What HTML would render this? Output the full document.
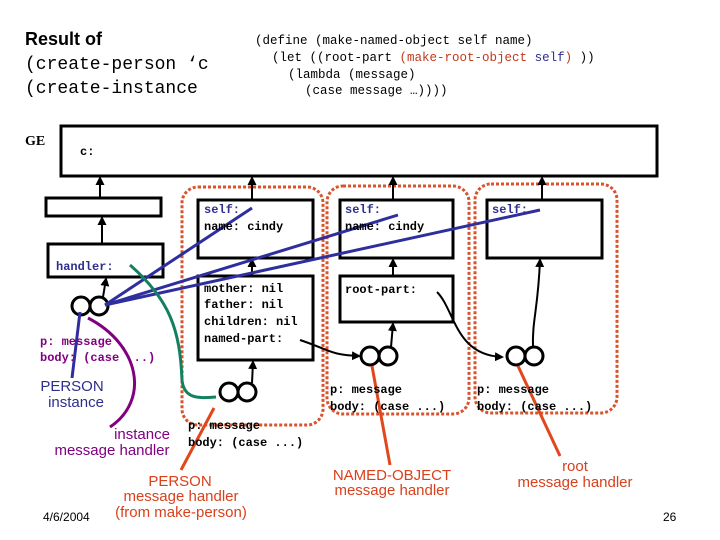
<!DOCTYPE html>
<html><head><style>body{margin:0;background:#fff}svg{display:block}
.m{font-family:"Liberation Mono",monospace;font-size:12px;font-weight:bold}
.s{font-family:"Liberation Sans",sans-serif;font-size:15px}
</style></head><body>
<svg width="720" height="540" viewBox="0 0 720 540" xmlns="http://www.w3.org/2000/svg">
<defs><marker id="a" markerUnits="userSpaceOnUse" markerWidth="9" markerHeight="9" refX="7" refY="4.5" orient="auto"><path d="M0,0 L9,4.5 L0,9z" fill="#000"/></marker></defs>
<text x="25" y="45" font-family="Liberation Sans" font-size="18" font-weight="bold">Result of</text>
<text x="25" y="69" font-family="Liberation Mono" font-size="18">(create-person ‘c</text>
<text x="25" y="93" font-family="Liberation Mono" font-size="18">(create-instance</text>
<g font-family="Liberation Mono" font-size="12.5">
<text x="255" y="44">(define (make-named-object self name)</text>
<text x="272" y="61">(let ((root-part <tspan fill="#c0391b">(make-root-object</tspan> <tspan fill="#2e2e8e">self</tspan><tspan fill="#c0391b">)</tspan> ))</text>
<text x="288" y="78">(lambda (message)</text>
<text x="305" y="94">(case message …))))</text>
</g>
<text x="25" y="145" font-family="Liberation Serif" font-size="14" font-weight="bold">GE</text>
<g fill="none" stroke="#000" stroke-width="3">
<rect x="61" y="126" width="596" height="50"/>
<rect x="46" y="198" width="115" height="18"/>
<rect x="48" y="244" width="115" height="33"/>
<rect x="198" y="200" width="115" height="58"/>
<rect x="198" y="276" width="115" height="84"/>
<rect x="340" y="200" width="113" height="58"/>
<rect x="340" y="276" width="113" height="46"/>
<rect x="487" y="200" width="115" height="58"/>
</g>
<g fill="none" stroke="#d9532c" stroke-width="3" stroke-dasharray="3,2">
<rect x="182" y="187" width="141" height="238" rx="16"/>
<rect x="327" y="186" width="142" height="228" rx="16"/>
<rect x="475" y="184" width="142" height="229" rx="16"/>
</g>
<g stroke="#000" stroke-width="2" marker-end="url(#a)" fill="none">
<line x1="100" y1="198" x2="100" y2="178"/>
<line x1="102" y1="244" x2="102" y2="218"/>
<line x1="103" y1="297" x2="106" y2="279"/>
<line x1="252" y1="200" x2="252" y2="178"/>
<line x1="252" y1="276" x2="252" y2="260"/>
<line x1="393" y1="200" x2="393" y2="178"/>
<line x1="393" y1="276" x2="393" y2="260"/>
<line x1="542" y1="200" x2="542" y2="178"/>
<line x1="252" y1="383" x2="253" y2="362"/>
<line x1="391" y1="347" x2="393" y2="324"/>
<path d="M533,348 C532,320 538,310 540,260"/>
<path d="M437,292 C455,310 455,355 502,357"/>
<path d="M300,340 C330,350 330,355 359,356"/>
</g>
<g fill="none" stroke="#000" stroke-width="3">
<circle cx="81" cy="306" r="9"/><circle cx="99" cy="306" r="9"/>
<circle cx="229" cy="392" r="9"/><circle cx="247" cy="392" r="9"/>
<circle cx="370" cy="356" r="9"/><circle cx="388" cy="356" r="9"/>
<circle cx="516" cy="356" r="9"/><circle cx="534" cy="356" r="9"/>
</g>
<g fill="none" stroke="#2e2e9e" stroke-width="3">
<line x1="105" y1="305" x2="252" y2="208"/>
<line x1="105" y1="305" x2="398" y2="215"/>
<line x1="105" y1="305" x2="540" y2="210"/>
<line x1="72" y1="378" x2="80" y2="312"/>
</g>
<path d="M110,427 C150,400 140,345 88,318" fill="none" stroke="#800080" stroke-width="3"/>
<path d="M130,265 C170,300 180,330 182,380 C184,400 200,398 216,397" fill="none" stroke="#148060" stroke-width="3"/>
<g stroke="#e2461c" stroke-width="3">
<line x1="181" y1="470" x2="214" y2="408"/>
<line x1="390" y1="465" x2="372" y2="366"/>
<line x1="560" y1="456" x2="518" y2="366"/>
</g>
<g class="m">
<text x="80" y="155">c:</text>
<text x="204" y="213" fill="#2e2e8e">self:</text><text x="204" y="230">name: cindy</text>
<text x="204" y="292">mother: nil</text><text x="204" y="308">father: nil</text>
<text x="204" y="325">children: nil</text><text x="204" y="342">named-part:</text>
<text x="345" y="213" fill="#2e2e8e">self:</text><text x="345" y="230">name: cindy</text>
<text x="345" y="293">root-part:</text>
<text x="492" y="213" fill="#2e2e8e">self:</text>
<text x="56" y="270" fill="#2e2e8e">handler:</text>
<text x="40" y="345" fill="#800080">p: message</text><text x="40" y="361" fill="#800080">body: (case ...)</text>
<text x="188" y="429">p: message</text><text x="188" y="446">body: (case ...)</text>
<text x="330" y="393">p: message</text><text x="330" y="410">body: (case ...)</text>
<text x="477" y="393">p: message</text><text x="477" y="410">body: (case ...)</text>
</g>
<g class="s" text-anchor="middle">
<text x="72" y="391" fill="#2e2e8e">PERSON</text><text x="76" y="407" fill="#2e2e8e">instance</text>
<text x="142" y="439" fill="#800080">instance</text><text x="112" y="455" fill="#800080">message handler</text>
<text x="180" y="486" fill="#d9401c">PERSON</text><text x="181" y="501" fill="#d9401c">message handler</text><text x="181" y="517" fill="#d9401c">(from make-person)</text>
<text x="392" y="480" fill="#d9401c">NAMED-OBJECT</text><text x="392" y="495" fill="#d9401c">message handler</text>
<text x="575" y="471" fill="#d9401c">root</text><text x="575" y="487" fill="#d9401c">message handler</text>
</g>
<text x="43" y="521" font-family="Liberation Sans" font-size="12">4/6/2004</text>
<text x="663" y="521" font-family="Liberation Sans" font-size="12">26</text>
</svg>
</body></html>
